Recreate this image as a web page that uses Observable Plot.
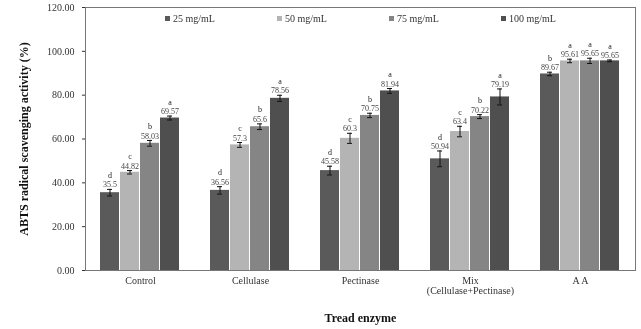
<!DOCTYPE html>
<html><head><meta charset="utf-8">
<script src="https://cdn.jsdelivr.net/npm/d3@7"></script>
<script src="https://cdn.jsdelivr.net/npm/@observablehq/plot@0.6"></script>
<style>
body{margin:0;background:#fff;}
#wrap{position:relative;width:641px;height:329px;font-family:"Liberation Serif",serif;filter:grayscale(1);}
#legend{position:absolute;left:165px;top:13px;display:flex;font-size:10px;color:#333;}
#legend .item{width:112px;display:flex;align-items:center;}
#legend .sw{width:5px;height:5px;margin-right:3px;}
</style></head><body><div id="wrap"></div>
<script>
const groups = ["Control", "Cellulase", "Pectinase", "Mix\n(Cellulase+Pectinase)", "A A"];
const series = ["25 mg/mL", "50 mg/mL", "75 mg/mL", "100 mg/mL"];
const colors = ["#5a5a5a", "#b4b4b4", "#858585", "#4f4f4f"];
// values per series, in group order
const v25  = [35.5, 36.56, 45.58, 50.94, 89.67];
const v50  = [44.82, 57.3, 60.3, 63.4, 95.61];
const v75  = [58.03, 65.6, 70.75, 70.22, 95.65];
const v100 = [69.57, 78.56, 81.94, 79.19, 95.65];
// standard deviations (estimated)
const sd25  = [1.5, 1.7, 2.0, 3.6, 0.8];
const sd50  = [0.8, 1.1, 2.3, 2.4, 0.8];
const sd75  = [1.3, 1.3, 1.0, 0.9, 1.2];
const sd100 = [0.9, 1.4, 1.1, 3.65, 0.4];
// significance letters
const l25  = ["d", "d", "d", "d", "b"];
const l50  = ["c", "c", "c", "c", "a"];
const l75  = ["b", "b", "b", "b", "a"];
const l100 = ["a", "a", "a", "a", "a"];
const yTicks = [0, 20, 40, 60, 80, 100, 120];
const yTitle = "ABTS radical scavenging activity (%)";
const xTitle = "Tread enzyme";

const vals = [v25, v50, v75, v100];
const sds = [sd25, sd50, sd75, sd100];
const lets = [l25, l50, l75, l100];
const rows = [];
groups.forEach((g, gi) => series.forEach((s, si) => {
  rows.push({group: g, series: s, value: vals[si][gi], sd: sds[si][gi], letter: lets[si][gi]});
}));
const lo = d => d.value - d.sd;
const hi = d => d.value + d.sd;

const plot = Plot.plot({
  width: 641,
  height: 329,
  marginLeft: 84,
  marginRight: 5,
  marginTop: 7,
  marginBottom: 59,
  style: {fontFamily: "'Liberation Serif', serif", fontSize: "10px", color: "#333", background: "#fff"},
  fx: {domain: groups, padding: 0, label: xTitle, labelAnchor: "center", labelOffset: 51, labelArrow: false, tickSize: 0, tickPadding: 6, axis: "bottom"},
  x: {domain: series, paddingInner: 0.04, paddingOuter: 0.72, axis: null},
  y: {domain: [0, 120], ticks: yTicks, tickFormat: d => d.toFixed(2), tickSize: 3, tickPadding: 8, label: yTitle, labelAnchor: "center", labelOffset: 66, labelArrow: false},
  color: {domain: series, range: colors},
  marks: [
    Plot.barY(rows, {fx: "group", x: "series", y: "value", fill: "series"}),
    Plot.ruleX(rows, {fx: "group", x: "series", y1: lo, y2: hi, stroke: "#111", strokeWidth: 1}),
    Plot.tickY(rows, {fx: "group", x: "series", y: lo, stroke: "#111", insetLeft: 7, insetRight: 7}),
    Plot.tickY(rows, {fx: "group", x: "series", y: hi, stroke: "#111", insetLeft: 7, insetRight: 7}),
    Plot.text(rows, {fx: "group", x: "series", y: hi, text: d => String(d.value), dy: -4.5, fontSize: 8, fill: "#444"}),
    Plot.text(rows, {fx: "group", x: "series", y: hi, text: "letter", dy: -14, fontSize: 8, fill: "#222"}),
    Plot.frame({facet: "super", stroke: "#777"})
  ]
});

const wrap = document.getElementById("wrap");
wrap.appendChild(plot);
for (const sel of ['g[aria-label="y-axis label"]', 'g[aria-label="fx-axis label"]']) {
  const g = plot.querySelector(sel);
  if (g) { g.setAttribute("font-weight", "bold"); g.setAttribute("font-size", "12"); g.setAttribute("fill", "#111"); }
}
const color = plot.scale("color");
const legend = document.createElement("div");
legend.id = "legend";
for (const s of series) {
  const item = document.createElement("div");
  item.className = "item";
  const sw = document.createElement("span");
  sw.className = "sw";
  sw.style.background = color.apply(s);
  const t = document.createElement("span");
  t.textContent = s;
  item.appendChild(sw); item.appendChild(t);
  legend.appendChild(item);
}
wrap.appendChild(legend);
</script></body></html>
